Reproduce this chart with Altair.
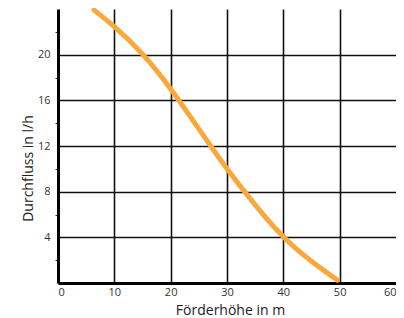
import altair as alt
import pandas as pd

head_m = [6.4, 10, 15, 20, 25, 30, 35, 40, 45, 49.6]
flow_lh = [23.9, 22.45, 20.05, 17.0, 13.5, 10.0, 6.85, 4.05, 1.9, 0.25]

x_ticks = [0, 10, 20, 30, 40, 50, 60]
y_ticks = [0, 2, 4, 6, 8, 10, 12, 14, 16, 18, 20, 22, 24]

df = pd.DataFrame({"x": head_m, "y": flow_lh})

FONT = "Open Sans"

chart = alt.Chart(df).mark_line(
    interpolate="natural", strokeWidth=5, color="#F9A83B", strokeCap="round"
).encode(
    x=alt.X("x:Q", scale=alt.Scale(domain=[0, 60], nice=False),
            axis=alt.Axis(
                values=x_ticks, title="Förderhöhe in m",
                grid=True, gridColor="#111", gridWidth=1.6,
                gridOpacity={"condition": {"test": "datum.value === 60 || datum.value === 0", "value": 0}, "value": 1},
                domainColor="#000", domainWidth=3,
                ticks=False, labelPadding=3, labelFlush=True,
                labelFont=FONT, labelFontSize=11, labelColor="#333",
                titleFont=FONT, titleFontSize=14, titleFontWeight="normal", titleColor="#222",
                titleX=172, titleY=31, titleBaseline="alphabetic", titleAlign="center",
            )),
    y=alt.Y("y:Q", scale=alt.Scale(domain=[0, 24], nice=False),
            axis=alt.Axis(
                values=y_ticks, title="Durchfluss in l/h",
                labelExpr="(datum.value % 4 === 0 && datum.value > 0 && datum.value < 24) ? datum.label : ''",
                grid=True, gridColor="#111", gridWidth=1.6,
                gridOpacity={"condition": {"test": "datum.value % 4 === 0 && datum.value > 0 && datum.value < 24", "value": 1}, "value": 0},
                tickOpacity={"condition": {"test": "datum.value % 4 === 2", "value": 1}, "value": 0},
                tickSize=3, tickWidth=1, tickColor="#333",
                domainColor="#000", domainWidth=3,
                labelPadding=5,
                labelFont=FONT, labelFontSize=11, labelColor="#333",
                titleFont=FONT, titleFontSize=14, titleFontWeight="normal", titleColor="#222",
                titleX=-26, titleY=159, titleBaseline="alphabetic", titleAlign="center", titleAngle=270,
            )),
).properties(
    width=338, height=274,
    autosize=alt.AutoSizeParams(type="none"),
    padding={"left": 50, "top": 1, "right": 0, "bottom": 35},
).configure_view(stroke=None)

chart.save("out.html", embed_options={"renderer": "svg", "actions": False})
